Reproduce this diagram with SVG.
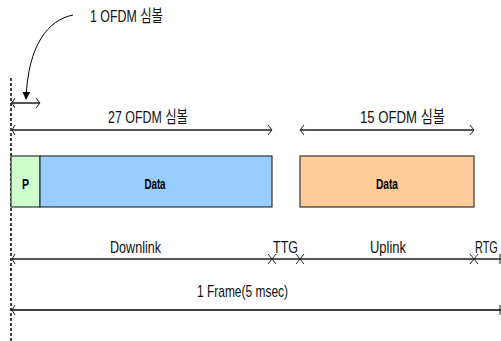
<svg xmlns="http://www.w3.org/2000/svg" width="501" height="341" viewBox="0 0 501 341">
<style>
.t{font-family:"Liberation Sans","Noto Sans CJK KR",sans-serif;font-size:17px;fill:#111}
.b{font-family:"Liberation Sans",sans-serif;font-size:15px;font-weight:bold;fill:#000}
.ln{stroke:#555;stroke-width:2;fill:none}
.ln1{stroke:#000;stroke-width:1.5;fill:none}
.ah{stroke:#222;stroke-width:1;fill:none}
.box{stroke:#333;stroke-width:1.2}
</style>
<defs>
<marker id="fa" viewBox="0 0 10 10" refX="9" refY="5" markerWidth="8" markerHeight="8" orient="auto" markerUnits="userSpaceOnUse">
<path d="M0,0 L10,5 L0,10 z" fill="#000"/>
</marker>
</defs>
<rect width="501" height="341" fill="#fff"/>
<g id="frame-boundary">
<line x1="11" y1="78" x2="11" y2="341" stroke="#000" stroke-width="1.5" stroke-dasharray="3,2"/>
</g>
<g id="label-1sym">
<text class="t" x="90" y="22" textLength="73" lengthAdjust="spacingAndGlyphs">1 OFDM 심볼</text>
</g>
<g id="block-P">
<rect class="box" x="11" y="156" width="29" height="51" fill="#CCFFCC"/>
<text class="b" x="25.5" y="189" text-anchor="middle" textLength="7" lengthAdjust="spacingAndGlyphs">P</text>
</g>
<g id="block-dl-data">
<rect class="box" x="40" y="156" width="232" height="51" fill="#99CCFF"/>
<text class="b" x="155" y="189" text-anchor="middle" textLength="21" lengthAdjust="spacingAndGlyphs">Data</text>
</g>
<g id="block-ul-data">
<rect class="box" x="300" y="156" width="174" height="51" fill="#FFCC99"/>
<text class="b" x="387" y="189" text-anchor="middle" textLength="22" lengthAdjust="spacingAndGlyphs">Data</text>
</g>
<g id="labels">
<text class="t" x="108" y="123" textLength="80" lengthAdjust="spacingAndGlyphs">27 OFDM 심볼</text>
<text class="t" x="360" y="123" textLength="85" lengthAdjust="spacingAndGlyphs">15 OFDM 심볼</text>
<text class="t" x="110" y="253" textLength="51" lengthAdjust="spacingAndGlyphs">Downlink</text>
<text class="t" x="273" y="253" textLength="25" lengthAdjust="spacingAndGlyphs">TTG</text>
<text class="t" x="370" y="253" textLength="36" lengthAdjust="spacingAndGlyphs">Uplink</text>
<text class="t" transform="translate(475,253) scale(0.64,1)">RTG</text>
<text class="t" x="197" y="297" textLength="91" lengthAdjust="spacingAndGlyphs">1 Frame(5 msec)</text>
</g>
<g id="connectors">
<path d="M73,15 C48,20 28,45 26,99" stroke="#000" stroke-width="1" fill="none" marker-end="url(#fa)"/>
<line class="ln" x1="11" y1="103" x2="40" y2="103"/>
<line class="ln" x1="11" y1="130" x2="272" y2="130"/>
<line class="ln" x1="300" y1="130" x2="474" y2="130"/>
<line class="ln" x1="11" y1="259" x2="501" y2="259"/>
<line class="ln1" x1="11" y1="310" x2="501" y2="310"/>
<path class="ah" d="M15,98 L12,103 L15,108 M36,98 L40,103 L36,108"/>
<path class="ah" d="M15,125 L12,130 L15,135 M268,125 L272,130 L268,135"/>
<path class="ah" d="M304,125 L300,130 L304,135 M470,125 L474,130 L470,135"/>
<path class="ah" d="M15,254 L12,259 L15,264 M268,254 L276,264 M276,254 L268,264 M296,254 L304,264 M304,254 L296,264 M470,254 L478,264 M478,254 L470,264 M500,254 L500,264"/>
<path class="ah" d="M15,305 L12,310 L15,315 M500,305 L500,315"/>
</g>
</svg>
